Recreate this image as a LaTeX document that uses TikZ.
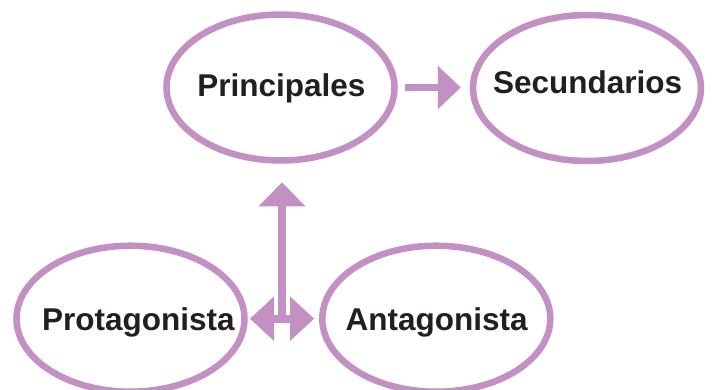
\documentclass[tikz,border=0pt]{standalone}
\usepackage{fontspec}
\setmainfont{Liberation Sans}
\usetikzlibrary{shapes.geometric,arrows.meta}
\definecolor{lilac}{RGB}{195,144,195}
\definecolor{ink}{RGB}{35,31,32}
\begin{document}
\begin{tikzpicture}[x=1pt,y=-1pt,
  oval/.style={ellipse, draw=lilac, fill=white, line width=6.5pt, inner sep=0pt,
    minimum width=228pt, minimum height=146pt},
  word/.style={anchor=base, font=\bfseries\fontsize{31.5}{36}\selectfont, text=ink, inner sep=0pt},
  conn/.style={draw=lilac, line width=7.5pt},
  ]
\clip (0,0) rectangle (712,389);
\node[oval] (P) at (280.5,87.5) {};
\node[oval] (S) at (587,88) {};
\node[oval] (Pro) at (130.5,318.7) {};
\node[oval] (Ant) at (436.3,318.7) {};
\node[word] (tP) at (281.3,96.7) {Principales};
\node[word] (tS) at (587.7,93.3) {Secundarios};
\node[word] (tPro) at (138.3,330) {Protagonista};
\node[word] (tAnt) at (436.7,330) {Antagonista};
\coordinate (mid) at (282,319);
\draw[conn, -{Triangle[width=43.5pt,length=23pt,line width=0pt]},
  shorten <=7.25pt, shorten >=9pt] (P.east) -- (P.east -| S.west);
\draw[conn, -{Triangle[width=46.5pt,length=24pt,line width=0pt]},
  shorten >=18.5pt] (mid) -- (mid |- P.south);
\draw[conn, line width=8pt,
  {Triangle[width=44.5pt,length=24pt,line width=0pt]}-{Triangle[width=44.5pt,length=24pt,line width=0pt]},
  shorten <=2.25pt, shorten >=5pt] (Pro.east) -- (Ant.west);
\end{tikzpicture}
\end{document}
